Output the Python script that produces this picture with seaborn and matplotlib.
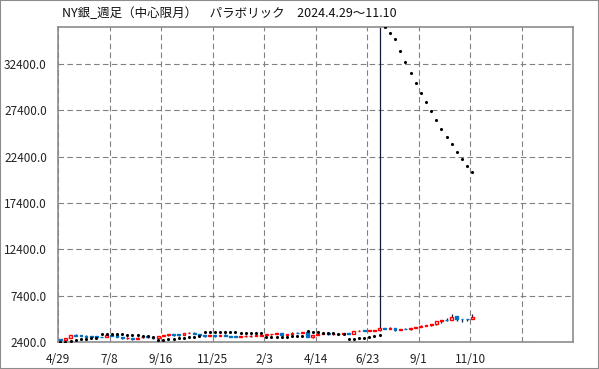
import matplotlib
matplotlib.use("Agg")
import matplotlib.pyplot as plt
from matplotlib.patches import Rectangle
import seaborn as sns
import pandas as pd
import numpy as np

title = "NY銀_週足（中心限月）　パラボリック　2024.4.29～11.10"
tick_labels = ["4/29", "7/8", "9/16", "11/25", "2/3", "4/14", "6/23", "9/1", "11/10", "", ""]
y_ticks = [2400, 7400, 12400, 17400, 22400, 27400, 32400]

opens = [2670, 2660, 2830, 3160, 3100, 3070, 2980, 3000, 2980, 2920,
         3150, 3120, 2930, 2810, 2860, 2750, 2890, 3000, 2890, 2840,
         3070, 3120, 3220, 3220, 3170, 3380, 3390, 3270, 3120, 3030,
         3120, 3060, 3110, 3060, 2980, 2960, 3000, 3050, 3070, 3090,
         3160, 3230, 3240, 3340, 3160, 3260, 3410, 3370, 3490, 2990,
         3150, 3300, 3330, 3230, 3260, 3250, 3340, 3310, 3600, 3630,
         3610, 3620, 3700, 3900, 3830, 3920, 3710, 3830, 3800, 3900,
         3980, 4140, 4240, 4310, 4640, 4790, 4800, 5200, 4870, 4860,
         4840]
highs = [2700, 2850, 3180, 3250, 3190, 3150, 3010, 3080, 2990, 3170,
         3160, 3160, 2960, 2920, 2880, 2900, 3030, 3040, 2930, 3100,
         3130, 3290, 3260, 3250, 3400, 3520, 3500, 3300, 3130, 3170,
         3130, 3190, 3270, 3090, 3020, 3070, 3140, 3170, 3170, 3200,
         3290, 3270, 3400, 3350, 3310, 3460, 3480, 3530, 3550, 3180,
         3320, 3380, 3350, 3330, 3300, 3360, 3380, 3620, 3700, 3720,
         3700, 3730, 36400, 3940, 3990, 3940, 3850, 3860, 3920, 4010,
         4190, 4260, 4380, 4650, 4800, 5000, 5400, 5240, 4910, 4900,
         5420]
lows = [2590, 2620, 2800, 3010, 3020, 2940, 2870, 2930, 2890, 2910,
        3040, 2910, 2720, 2760, 2650, 2700, 2880, 2880, 2710, 2790,
        3000, 3100, 3090, 3000, 3130, 3320, 3230, 3070, 2970, 3030,
        2950, 3040, 3060, 2910, 2920, 2890, 2990, 2990, 3040, 3020,
        3140, 3170, 3230, 3110, 3150, 3230, 3320, 3330, 2980, 2800,
        3130, 3240, 3180, 3190, 3190, 3220, 3270, 3290, 3540, 3560,
        3540, 3580, 3630, 3770, 3820, 3640, 3660, 3750, 3740, 3860,
        3970, 4080, 4140, 4280, 4480, 4690, 4780, 4660, 4580, 4660,
        4830]
closes = [2660, 2820, 3150, 3040, 3070, 2990, 2960, 2960, 2920, 3150,
          3100, 2930, 2800, 2860, 2750, 2880, 2990, 2900, 2830, 3070,
          3120, 3220, 3200, 3160, 3380, 3400, 3270, 3120, 3030, 3120,
          3060, 3110, 3070, 2980, 2960, 2990, 3040, 3070, 3090, 3150,
          3230, 3240, 3340, 3150, 3260, 3420, 3360, 3490, 2990, 3160,
          3300, 3330, 3230, 3260, 3250, 3340, 3310, 3600, 3630, 3610,
          3620, 3700, 3900, 3830, 3920, 3710, 3830, 3800, 3900, 3980,
          4140, 4240, 4310, 4640, 4790, 4780, 5150, 4870, 4860, 4840,
          5060]
sar = [2420, 2430, 2540, 2620, 2690, 2760, 2800, 2830,
       3250, 3245, 3240, 3230, 3220, 3205, 3180, 3120, 3070, 3010, 2930,
       2650, 2660, 2690, 2750, 2800, 2860, 2930, 2980, 3040,
       3500, 3490, 3480, 3470, 3460, 3450, 3440, 3420, 3400, 3380, 3360, 3340,
       2890, 2900, 2920, 2950, 2980, 3020, 3060, 3100,
       3590, 3500, 3450, 3410, 3370, 3340, 3300, 3260,
       2720, 2760, 2800, 2860, 2940, 3020, 3120,
       36400, 35750, 35100, 33800, 32620, 31430, 30350, 29270, 28300, 27320,
       26350, 25380, 24510, 23760, 22890, 22140, 21380, 20730]

sns.set_style("white")
plt.rcParams["font.family"] = ["Noto Sans CJK JP", "DejaVu Sans"]

df = pd.DataFrame({"week": np.arange(len(opens)), "open": opens, "high": highs,
                   "low": lows, "close": closes, "sar": sar})
offset = 0.45
df["x"] = df["week"] + offset

fig = plt.figure(figsize=(5.99, 3.69), dpi=100)
ax = fig.add_axes([58 / 599, 1 - 342 / 369, (573 - 58) / 599, (342 - 27) / 369])

ymin, ymax = 2400, 36400
ax.set_xlim(0, 100)
ax.set_ylim(ymin, ymax)

# wicks
ax.vlines(df["x"], df["low"], df["high"], color="#141a3c", linewidth=0.9, zorder=2)

# bodies
up = df["close"] >= df["open"]
body_lo = np.minimum(df["open"], df["close"])
body_h = np.maximum(np.abs(df["close"] - df["open"]), 40)
ax.bar(df.loc[up, "x"], body_h[up], bottom=body_lo[up], width=0.55,
       facecolor="white", edgecolor="#ff0000", linewidth=1.0, zorder=3)
ax.bar(df.loc[~up, "x"], body_h[~up], bottom=body_lo[~up], width=0.55,
       facecolor="#0070c0", edgecolor="#0070c0", linewidth=1.0, zorder=3)

# parabolic SAR
sns.scatterplot(data=df, x="x", y="sar", ax=ax, color="black", marker="o",
                s=5, linewidth=0, zorder=4, legend=False)

ax.set_xticks(np.arange(0, 101, 10))
ax.set_xticklabels(tick_labels)
ax.set_yticks(y_ticks)
ax.set_yticklabels([f"{v:.1f}" for v in y_ticks])
ax.set_xlabel("")
ax.set_ylabel("")
ax.grid(True, linestyle=(0, (5, 3)), color="#808080", linewidth=0.8)
ax.set_axisbelow(True)
for s in ax.spines.values():
    s.set_color("#8c8c8c")
    s.set_linewidth(1.2)
ax.tick_params(axis="both", direction="out", length=5, width=0.8, color="#808080",
               labelsize=8.5, labelcolor="#222222", pad=3)

fig.text(62 / 599, 1 - 14 / 369, title, fontsize=9, va="center", ha="left", color="#111111")
fig.patches.append(Rectangle((0, 0), 1, 1, transform=fig.transFigure, fill=False,
                             edgecolor="#8c8c8c", linewidth=1.5))

fig.savefig("out.png", dpi=100)
